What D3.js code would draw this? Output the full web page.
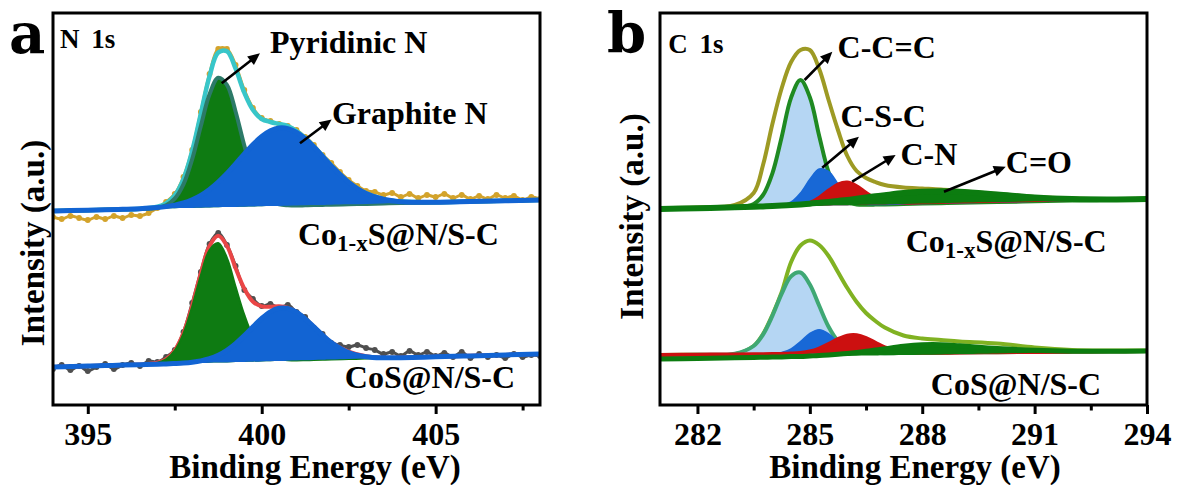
<!DOCTYPE html>
<html><head><meta charset="utf-8">
<script src="https://cdn.jsdelivr.net/npm/d3@7"></script>
<style>
html,body{margin:0;padding:0;background:#fff;}
svg{display:block;}
text{font-family:"Liberation Serif","Times New Roman",serif;font-weight:bold;fill:#000;}
text.panel{font-family:"DejaVu Serif","Liberation Serif",serif;}
</style></head><body>
<svg id="chart" width="1177" height="485"></svg>
<script>
// ---------------- DATA ----------------
// Panel a: N 1s, binding energy grid (eV) for the fitted curves
const eA = [394,394.5,395,395.5,396,396.5,397,397.25,397.5,397.75,398,398.25,398.5,398.75,399,399.25,399.5,399.75,400,400.25,400.5,400.75,401,401.25,401.5,401.75,402,402.5,403,403.5,404,405,406,407,408];
// Co1-xS@N/S-C (upper spectrum)
const bgA1 = [194,194.4,194.8,195.2,195.6,196.0,196.4,196.6,196.8,196.9,197.1,197.3,197.5,197.7,197.9,198.1,198.3,198.5,198.7,198.9,199.1,199.3,199.5,199.7,199.9,200.1,200.3,200.7,201.1,201.5,201.9,202.6,203.4,204.2,205.0];
const pyridinicA1 = [0,0,0,0,0,0,0.9,3.2,9.6,23.8,48.6,81.6,113.2,129.5,122.2,95.2,61.2,32.4,14.2,5.1,1.5,0.4,0,0,0,0,0,0,0,0,0,0,0,0,0];
const graphiteA1 = [0,0,0,0,0.1,0.3,1.0,1.8,3.1,5.2,8.2,12.4,18.1,25.2,33.6,43.0,52.8,62.0,69.8,75.3,77.9,77.1,73.2,66.6,58.0,48.5,38.8,21.9,10.4,4.2,1.4,0.1,0,0,0];
const envA1 = [194,194.4,194.8,195.2,195.7,196.3,198.3,201.6,209.5,225.9,253.9,291.3,328.8,352.4,353.7,336.3,312.3,295,286,283,281,279,274,267,258.5,249,239.5,222.8,211.6,205.8,203.4,202.7,203.4,204.2,205.0];
// CoS@N/S-C (lower spectrum)
const bgA2 = [38,38.5,38.9,39.4,39.9,40.3,40.8,41.0,41.3,41.5,41.7,41.9,42.2,42.4,42.6,42.9,43.1,43.3,43.6,43.8,44.0,44.3,44.5,44.7,45.0,45.2,45.4,45.9,46.4,46.8,47.3,48.2,49.1,50.1,51.0];
const pyridinicA2 = [0,0,0,0,0,0.1,1.4,4.7,13.1,29.9,56.5,87.9,112.8,119.5,104.5,75.3,47,25,12,5,2,0.5,0,0,0,0,0,0,0,0,0,0,0,0,0];
const graphiteA2 = [0,0,0,0,0,0,0,0.1,0.2,0.5,1.1,2.2,4.1,7.3,12.1,18.5,26.3,34.9,43.0,49.4,52.7,52.3,48.3,41.5,33.2,24.7,17.1,6.6,1.9,0.4,0,0,0,0,0];
const envA2 = [38,38.5,38.9,39.4,39.9,40.4,42.2,45.8,54.6,71.9,99.3,132.0,159.1,169.2,159.2,136.7,116.4,103.2,98.6,98.2,98.7,97.1,92.8,86.2,78.2,69.9,62.5,53.5,48.8,47.3,47.5,48.3,49.2,50.1,51.0];
// raw (measured) points, panel a
const eRawA = [394,394.25,394.5,394.75,395,395.25,395.5,395.75,396,396.25,396.5,396.75,397,397.25,397.5,397.75,398,398.25,398.5,398.75,399,399.25,399.5,399.75,400,400.25,400.5,400.75,401,401.25,401.5,401.75,402,402.25,402.5,402.75,403,403.25,403.5,403.75,404,404.25,404.5,404.75,405,405.25,405.5,405.75,406,406.25,406.5,406.75,407,407.25,407.5,407.75,408];
const rawA1 = [188,186,189,187,185,188,186,189,187,190,189,192,197,203,211,228,255,293,331,356,356,340,315,297,287,284,281,279,275,268,260,250,242,233,225,219,214,213,210,212,208,211,207,210,208,211,207,210,206,209,206,210,207,209,205,208,206];
const rawA2 = [36,40,35,39,34,38,41,36,40,42,39,44,43,48,55,73,102,133,161,172,160,139,115,106,99,101,97,100,93,88,77,71,62,60,58,60,57,55,51,53,49,54,50,53,49,52,48,53,47,51,48,50,47,51,48,50,49];

// Panel b: C 1s grid (eV)
const eB = [281,282,283,283.5,283.75,284,284.25,284.5,284.75,285,285.25,285.5,285.75,286,286.25,286.5,286.75,287,287.5,288,288.5,289,290,291,292,293,294];
// Co1-xS@N/S-C (upper)
const bgB1 = [196,196.8,197.5,197.9,198.1,198.3,198.5,198.7,198.9,199.1,199.3,199.5,199.7,199.8,200,200.2,200.4,200.6,201,201.4,201.8,202.2,202.9,203.7,204.5,205.2,206];
const ccB1 = [0,0,0.1,3.1,11.9,33.4,69.8,108.7,126,108.7,69.8,33.4,11.9,3.1,0.6,0.1,0,0,0,0,0,0,0,0,0,0,0];
const csB1 = [0,0,0,0,0,0.1,1.0,4.3,13.1,26.6,36.7,34.2,21.5,9.2,2.7,0.5,0.1,0,0,0,0,0,0,0,0,0,0];
const cnB1 = [0,0,0,0,0,0,0.1,0.4,1.5,4.2,9.4,16.3,22.2,23.9,20.2,13.4,7.0,2.9,0.2,0,0,0,0,0,0,0,0];
const coB1 = [0,0,0.2,0.3,0.5,0.7,1.0,1.3,1.7,2.2,2.9,3.6,4.4,5.3,6.3,7.3,8.3,9.2,10.9,11.8,11.9,11.1,7.7,3.9,1.5,0.4,0.1];
const envB1 = [197,197.5,200,212,240,281,317,343,355,355,336,305,275,249,234,227,223,220,217.5,216.5,215.5,214,211,208,206.5,206,206.5];
// CoS@N/S-C (lower)
const bgB2 = [50,50.3,50.6,50.8,50.8,50.9,51.0,51.1,51.2,51.2,51.3,51.4,51.5,51.5,51.6,51.7,51.8,51.8,52.0,52.2,52.3,52.5,52.8,53.1,53.4,53.7,54.0];
const bgCoB2 = [46,46.6,47.2,47.5,47.7,47.8,48.0,48.2,48.3,48.5,48.6,48.8,48.9,49.1,49.2,49.4,49.5,49.7,50.0,50.3,50.6,50.9,51.5,52.2,52.8,53.4,54.0];
const ccB2 = [0,0,0.8,8.2,19.6,38.2,60.4,77.7,81.3,69.2,47.9,26.9,12.4,4.6,1.4,0.4,0.1,0,0,0,0,0,0,0,0,0,0];
const csB2 = [0,0,0,0,0,0.3,1.5,5.1,12.2,20.4,24.0,19.8,11.4,4.7,1.3,0.3,0,0,0,0,0,0,0,0,0,0,0];
const cnB2 = [0,0,0,0,0,0,0.1,0.3,0.8,2.3,5.2,9.5,14.4,17.9,18.2,15.3,10.5,5.9,1.0,0.1,0,0,0,0,0,0,0];
const coB2 = [0,0,0,0,0,0.1,0.1,0.2,0.3,0.5,0.8,1.2,1.8,2.4,3.3,4.3,5.4,6.5,8.7,9.9,9.7,8.3,5.0,2.5,1.0,0.3,0];
const envB2 = [50,50.3,50.8,59,71,90,113,143,159.5,164.5,160,149,133,117,103,92,84,77.5,69.5,66.5,65,63.5,61.5,57.5,55,54.5,54.5];

// ticks
const majorA = [395,400,405], minorA = [397.5,402.5,407.5];
const majorB = [282,285,288,291,294], minorB = [283.5,286.5,289.5,292.5];

// annotations (text, eV, intensity)
const notesA = [["Pyridinic N",400.24,352],["Graphite N",402.02,281]];
const notesB = [["C-C=C",285.74,347],["C-S-C",285.82,278],["C-N",287.42,240],["C=O",290.23,232]];
const arrowsA = [[398.85,321.7,399.95,351.7],[401.1,261.7,402.01,285.5]];
const arrowsB = [[284.86,325,285.6,353.3],[285.33,237.3,286.31,268.3],[286.13,223.3,287.29,250],[288.58,213.3,290.23,238.3]];
const coreA = ["N 1s",394.2,357], coreB = ["C 1s",281.22,352];
const sampleA = [[401.04,160],[402.39,17]];
const sampleB = [[287.56,153],[288.23,10]];

// ---------------- DRAW ----------------
const FONT = '"Liberation Serif","Times New Roman",serif';
const svg = d3.select("#chart");
const yTop = 13, yBot = 405;
const y = d3.scaleLinear().domain([0,392]).range([yBot,yTop]);
const xA = d3.scaleLinear().domain([394,408]).range([53,540]);
const xB = d3.scaleLinear().domain([281,294]).range([660,1147]);
const curve = d3.curveCatmullRom.alpha(0.5);

const defs = svg.append("defs");
function clip(id,x){
  defs.append("clipPath").attr("id",id).append("rect")
    .attr("x",x.range()[0]).attr("y",yTop).attr("width",x.range()[1]-x.range()[0]).attr("height",yBot-yTop);
}
clip("clipA",xA); clip("clipB",xB);
const gA = svg.append("g").attr("clip-path","url(#clipA)");
const gB = svg.append("g").attr("clip-path","url(#clipB)");

function layer(g,x,e,base,comp,fill,stroke,sw){
  const d = e.map((v,i)=>({e:v,b:base[i],t:base[i]+comp[i]}));
  g.append("path").datum(d).attr("d",d3.area().x(p=>x(p.e)).y0(p=>y(p.b)).y1(p=>y(p.t)).curve(curve)).attr("fill",fill);
  if(stroke) g.append("path").datum(d).attr("d",d3.line().x(p=>x(p.e)).y(p=>y(p.t)).curve(curve))
     .attr("fill","none").attr("stroke",stroke).attr("stroke-width",sw).attr("stroke-linejoin","round").attr("stroke-linecap","round");
}
function line(g,x,e,vals,color,sw){
  g.append("path").datum(e.map((v,i)=>[v,vals[i]])).attr("d",d3.line().x(p=>x(p[0])).y(p=>y(p[1])).curve(curve))
   .attr("fill","none").attr("stroke",color).attr("stroke-width",sw).attr("stroke-linejoin","round").attr("stroke-linecap","round");
}
function raw(g,x,e,vals,color){
  const d = e.map((v,i)=>[v,vals[i]]);
  g.append("path").datum(d).attr("d",d3.line().x(p=>x(p[0])).y(p=>y(p[1])).curve(d3.curveCatmullRom))
   .attr("fill","none").attr("stroke",color).attr("stroke-width",3);
  g.selectAll(null).data(d).enter().append("circle").attr("cx",p=>x(p[0])).attr("cy",p=>y(p[1])).attr("r",2.9).attr("fill",color);
}

// Panel a
raw(gA,xA,eRawA,rawA1,"#d3a32b");
line(gA,xA,eA,envA1,"#38c6c9",4.5);
layer(gA,xA,eA,bgA1,pyridinicA1,"#0e7b12","#2c7a68",4);
layer(gA,xA,eA,bgA1,graphiteA1,"#1264d3","#1264d3",5);

raw(gA,xA,eRawA,rawA2,"#4f4f4f");
line(gA,xA,eA,envA2,"#ea4646",4);
layer(gA,xA,eA,bgA2,pyridinicA2,"#0e7b12","#0e7b12",2);
layer(gA,xA,eA,bgA2,graphiteA2,"#1264d3","#1264d3",5);

// Panel b
line(gB,xB,eB,envB1,"#9d9a24",4);
layer(gB,xB,eB,bgB1,ccB1,"#b5d6f3","#1f8a22",4);
layer(gB,xB,eB,bgB1,csB1,"#1868d6","#1868d6",1.5);
layer(gB,xB,eB,bgB1,cnB1,"#cc1010","#cc1010",1.5);
layer(gB,xB,eB,bgB1,coB1,"#0c7c10","#0c7c10",6);

line(gB,xB,eB,envB2,"#80b222",4);
layer(gB,xB,eB,bgB2,ccB2,"#b5d6f3","#3fa874",4);
layer(gB,xB,eB,bgB2,csB2,"#1868d6","#1868d6",1.5);
layer(gB,xB,eB,bgB2,cnB2,"#cc1010","#cc1010",4);
layer(gB,xB,eB,bgCoB2,coB2,"#0c7c10","#0c7c10",5);

// frames
[xA,xB].forEach(x=>{
  svg.append("rect").attr("x",x.range()[0]).attr("y",yTop).attr("width",x.range()[1]-x.range()[0]).attr("height",yBot-yTop)
    .attr("fill","none").attr("stroke","#000").attr("stroke-width",3);
});

// axes
function xAxis(x,major,minor){
  const g1 = svg.append("g").attr("transform",`translate(0,${yBot})`)
    .call(d3.axisBottom(x).tickValues(major).tickSize(9).tickPadding(8).tickFormat(d3.format("d")));
  g1.attr("font-family",FONT).attr("font-weight","bold");
  g1.select(".domain").remove();
  g1.selectAll("line").attr("stroke","#000").attr("stroke-width",3);
  g1.selectAll("text").attr("font-size",32).attr("font-family",FONT).attr("font-weight","bold").attr("fill","#000");
  const g2 = svg.append("g").attr("transform",`translate(0,${yBot})`)
    .call(d3.axisBottom(x).tickValues(minor).tickSize(5.5).tickFormat(""));
  g2.select(".domain").remove();
  g2.selectAll("line").attr("stroke","#000").attr("stroke-width",3);
}
xAxis(xA,majorA,minorA);
xAxis(xB,majorB,minorB);

// axis titles
svg.append("text").attr("x",315).attr("y",478).attr("text-anchor","middle").attr("font-size",33).text("Binding Energy (eV)");
svg.append("text").attr("x",915).attr("y",478).attr("text-anchor","middle").attr("font-size",33).text("Binding Energy (eV)");
svg.append("text").attr("transform","translate(44,243) rotate(-90)").attr("text-anchor","middle").attr("font-size",33).text("Intensity (a.u.)");
svg.append("text").attr("transform","translate(643,216.5) rotate(-90)").attr("text-anchor","middle").attr("font-size",33).text("Intensity (a.u.)");

// panel letters
svg.append("text").attr("class","panel").attr("x",9).attr("y",53).attr("font-size",56).text("a");
svg.append("text").attr("class","panel").attr("x",607).attr("y",53).attr("font-size",56).text("b");

// core-level labels
[[coreA,xA],[coreB,xB]].forEach(([c,x])=>{
  svg.append("text").attr("x",x(c[1])).attr("y",y(c[2])).attr("font-size",27).attr("word-spacing",5).text(c[0]);
});

// notes
function notes(list,x){
  list.forEach(n=>svg.append("text").attr("x",x(n[1])).attr("y",y(n[2])).attr("font-size",32).text(n[0]));
}
notes(notesA,xA); notes(notesB,xB);

// sample labels
function samples(list,x){
  const t1 = svg.append("text").attr("x",x(list[0][0])).attr("y",y(list[0][1])).attr("font-size",32);
  t1.append("tspan").text("Co");
  t1.append("tspan").attr("font-size",23).attr("dy",6).text("1-x");
  t1.append("tspan").attr("dy",-6).text("S@N/S-C");
  svg.append("text").attr("x",x(list[1][0])).attr("y",y(list[1][1])).attr("font-size",32).text("CoS@N/S-C");
}
samples(sampleA,xA); samples(sampleB,xB);

// arrows
function arrows(list,x){
  list.forEach(a=>{
    const x1=x(a[0]),y1=y(a[1]),x2=x(a[2]),y2=y(a[3]);
    const dx=x2-x1, dy=y2-y1, L=Math.hypot(dx,dy), ux=dx/L, uy=dy/L;
    const hl=12, hw=5.5;
    const bx=x2-ux*hl, by=y2-uy*hl;
    svg.append("line").attr("x1",x1).attr("y1",y1).attr("x2",bx+ux*2).attr("y2",by+uy*2)
      .attr("stroke","#000").attr("stroke-width",2.6);
    svg.append("path").attr("d",`M${x2},${y2}L${bx-uy*hw},${by+ux*hw}L${bx+uy*hw},${by-ux*hw}Z`).attr("fill","#000");
  });
}
arrows(arrowsA,xA); arrows(arrowsB,xB);
</script></body></html>
